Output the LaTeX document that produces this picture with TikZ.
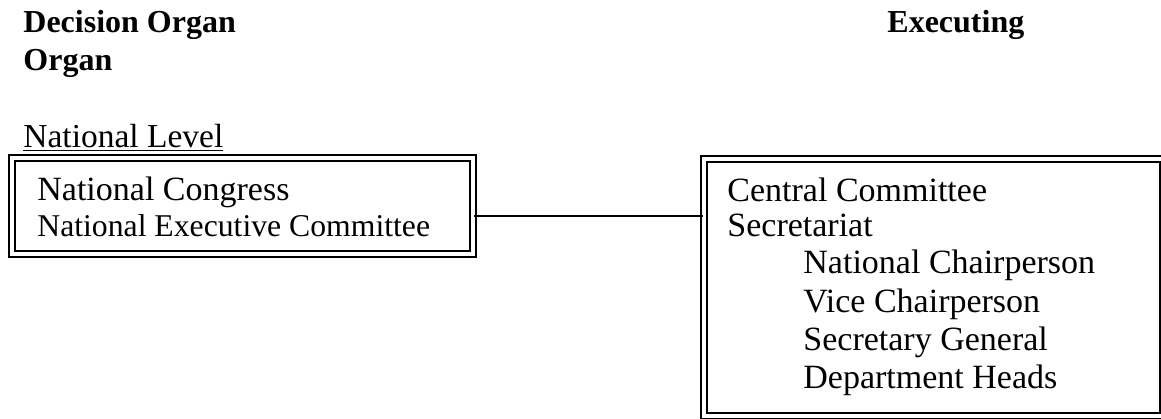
\documentclass[tikz,border=0pt]{standalone}
\usepackage{fontspec}
\setmainfont{Liberation Serif}

\begin{document}
\begin{tikzpicture}[x=0.5pt,y=-0.5pt,
    txt/.style={anchor=base west,inner sep=0pt,font=\fontsize{17pt}{20pt}\selectfont},
    heading/.style={txt,font=\fontsize{16pt}{19pt}\selectfont\bfseries},
    orgbox/.style={draw,double,line width=1pt,double distance=2pt}]
    \useasboundingbox (0,0) rectangle (1161,418);
    \node[heading](dechead) at (23,32) {Decision Organ};
    \node[heading](orghead) at (23,70) {Organ};
    \node[heading](exehead) at (887,32) {Executing};
    \node[txt,font=\fontsize{16.75pt}{20pt}\selectfont](natlvl) at (23,147) {\underline{National Level}};
    \node[orgbox,minimum width=230.75pt,minimum height=48.25pt](natdec) at (242.25,205.75) {};
    \node[orgbox,minimum width=229.5pt,minimum height=128.5pt](natexe) at (933.5,287) {};
    \node[txt](congress) at (37,200) {National Congress};
    \node[txt,font=\fontsize{15.85pt}{19pt}\selectfont](nec) at (37,236) {National Executive Committee};
    \node[txt](cc) at (727,201) {Central Committee};
    \node[txt](sec) at (727,236) {Secretariat};
    \node[txt](chair) at (803,273) {National Chairperson};
    \node[txt](vice) at (803,312) {Vice Chairperson};
    \node[txt](secgen) at (803,350) {Secretary General};
    \node[txt](heads) at (803,388) {Department Heads};
    \coordinate(link) at (0,216);
    \draw[line width=0.8pt] (natdec.east |- link) -- (natexe.west |- link);
\end{tikzpicture}
\end{document}
